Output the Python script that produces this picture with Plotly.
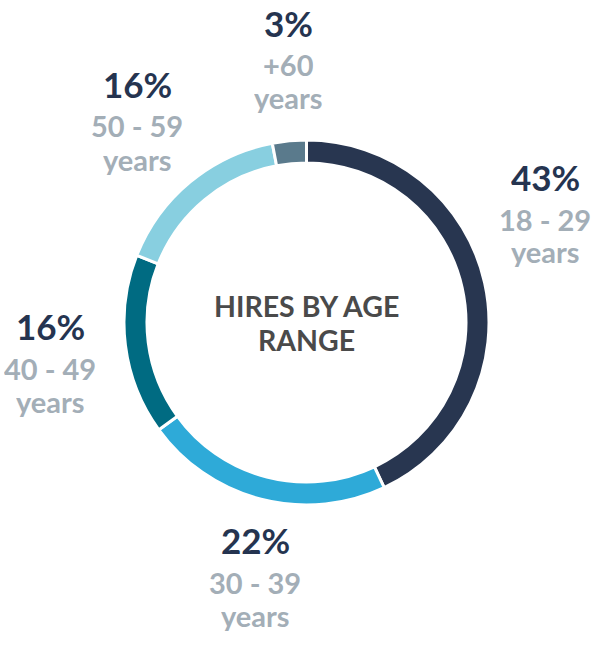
import plotly.graph_objects as go

# Data
age_ranges = ["18 - 29", "30 - 39", "40 - 49", "50 - 59", "+60"]
shares = [43, 22, 16, 16, 3]
colors = ["#283650", "#2eaad8", "#006b82", "#88cfe0", "#5a7a8c"]

# Label positions (pixel centres of each label block)
label_pos = [(545, 177), (255, 540), (50, 326), (137, 84), (288, 23)]

W, H = 600, 653
cx, cy, R = 306.5, 322.5, 182.5

fig = go.Figure(go.Pie(
    labels=age_ranges,
    values=shares,
    marker=dict(colors=colors, line=dict(color="white", width=3)),
    hole=0.874,
    sort=False,
    direction="clockwise",
    rotation=0,
    textinfo="none",
    hoverinfo="label+percent",
    domain=dict(x=[(cx - R) / W, (cx + R) / W], y=[1 - (cy + R) / H, 1 - (cy - R) / H]),
))

FONT = "Lato"
annotations = []
for (px, py), v, rng in zip(label_pos, shares, age_ranges):
    annotations.append(dict(
        x=px / W, y=1 - py / H, xref="paper", yref="paper", showarrow=False,
        text=f"<b>{v}%</b>", font=dict(family=FONT, size=35, color="#253450"),
        xanchor="center", yanchor="middle", height=40))
    annotations.append(dict(
        x=px / W, y=1 - (py + 42) / H, xref="paper", yref="paper", showarrow=False,
        text=f"<b>{rng}</b>", font=dict(family=FONT, size=29, color="#a3aeb7"),
        xanchor="center", yanchor="middle", height=31))
    annotations.append(dict(
        x=px / W, y=1 - (py + 75) / H, xref="paper", yref="paper", showarrow=False,
        text="<b>years</b>", font=dict(family=FONT, size=29, color="#a3aeb7"),
        xanchor="center", yanchor="middle", height=31))

annotations.append(dict(
    x=cx / W, y=1 - 306 / H, xref="paper", yref="paper", showarrow=False,
    text="<b>HIRES BY AGE</b>", font=dict(family=FONT, size=28.5, color="#4a4a4a"),
    xanchor="center", yanchor="middle"))
annotations.append(dict(
    x=cx / W, y=1 - 340 / H, xref="paper", yref="paper", showarrow=False,
    text="<b>RANGE</b>", font=dict(family=FONT, size=28.5, color="#4a4a4a"),
    xanchor="center", yanchor="middle"))

fig.update_layout(
    width=W, height=H,
    margin=dict(l=0, r=0, t=0, b=0),
    paper_bgcolor="white", plot_bgcolor="white",
    showlegend=False,
    annotations=annotations,
)

fig.write_html("out.html", config={"displayModeBar": False},
               post_script="document.body.style.margin='0';")
